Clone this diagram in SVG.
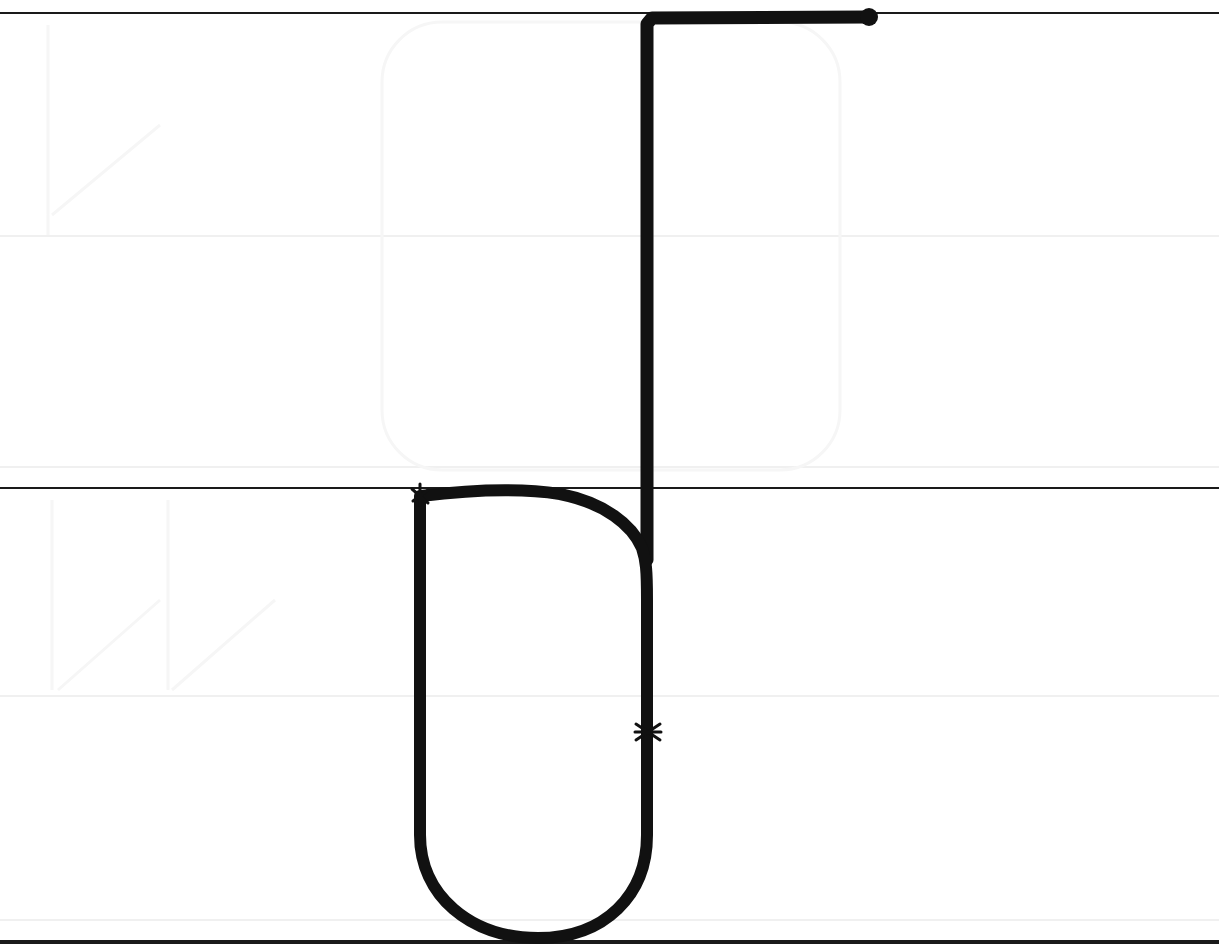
<svg xmlns="http://www.w3.org/2000/svg" width="1219" height="946" viewBox="0 0 1219 946">
<style>
.guide{stroke:#1a1a1a;fill:none}
.faint{stroke:#f0f0f0;stroke-width:2;fill:none}
.ghost{stroke:#f6f6f6;stroke-width:3;fill:none}
.stroke{stroke:#111;fill:none;stroke-linecap:round;stroke-linejoin:round}
.mark{stroke:#111;stroke-width:3;fill:none;stroke-linecap:round}
</style>
<rect width="1219" height="946" fill="#fff"/>
<g id="faint-guides">
<line class="faint" x1="0" y1="236" x2="1219" y2="236"/>
<line class="faint" x1="0" y1="467" x2="1219" y2="467"/>
<line class="faint" x1="0" y1="696" x2="1219" y2="696"/>
<line class="faint" x1="0" y1="920" x2="1219" y2="920"/>
<rect class="ghost" x="382" y="22" width="458" height="448" rx="60"/>
<path class="ghost" d="M48,25 V235 M52,215 L160,125 M52,500 V690 M168,500 V690 M58,690 L160,600 M172,690 L275,600"/>
</g>
<g id="guides">
<line class="guide" x1="0" y1="13" x2="1219" y2="13" stroke-width="2"/>
<line class="guide" x1="0" y1="488" x2="1219" y2="488" stroke-width="2"/>
<line class="guide" x1="0" y1="942" x2="1219" y2="942" stroke-width="4"/>
</g>
<g id="letter">
<path class="stroke" stroke-width="13" d="M868,17 L652,18 L647,24 L647,560"/>
<circle cx="869" cy="17" r="9" fill="#111"/>
<path class="stroke" stroke-width="12" d="M421,496 C470,490 520,488 560,494 C605,503 632,525 642,548 C646,560 647,570 647,600 L647,835 C647,895 605,938 538,938 C470,938 420,895 420,835 L420,496"/>
</g>
<g id="marks">
<path class="mark" d="M412,489 L428,503 M413,501 L428,490 M420,484 L420,505"/>
<path class="mark" d="M636,724 L660,740 M636,740 L660,724 M635,732 L661,732"/>
</g>
</svg>
